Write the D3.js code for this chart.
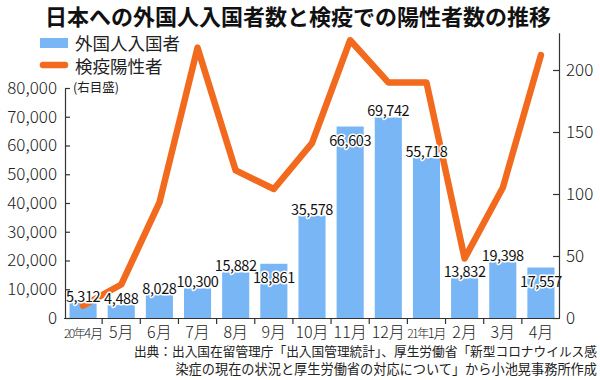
<!DOCTYPE html>
<html>
<head>
<meta charset="utf-8">
<script src="https://cdn.jsdelivr.net/npm/d3@7"></script>
<style>
  html, body { margin: 0; padding: 0; background: #fff; }
  svg { display: block; }
  text { font-family: "Noto Sans CJK JP", "Noto Sans", sans-serif; }
</style>
</head>
<body>
<svg id="chart" width="600" height="380"></svg>
<script>
// ---- data ----
const months = ["20年4月", "5月", "6月", "7月", "8月", "9月", "10月", "11月", "12月", "21年1月", "2月", "3月", "4月"];
const entrants = [5312, 4488, 8028, 10300, 15882, 18861, 35578, 66603, 69742, 55718, 13832, 19398, 17557];
const positives = [10, 27, 93, 218, 119, 104, 141, 224, 190, 190, 48, 105, 212];
const leftTicks = [0, 10000, 20000, 30000, 40000, 50000, 60000, 70000, 80000];
const rightTicks = [0, 50, 100, 150, 200];
const title = "日本への外国人入国者数と検疫での陽性者数の推移";
const seriesNames = ["外国人入国者", "検疫陽性者"];
const rightNote = "(右目盛)";
const sourceLines = [
  "出典：出入国在留管理庁「出入国管理統計」、厚生労働省「新型コロナウイルス感",
  "染症の現在の状況と厚生労働省の対応について」から小池晃事務所作成"
];
// layout: value labels that sit inside the bar top instead of above it
const labelInside = [false, false, false, false, false, true, false, true, false, false, false, false, true];

// ---- styles ----
const BAR = "#78b6f5";
const LINE = "#f26a1e";
const AXIS = "#333";

const svg = d3.select("#chart");
const plotLeft = 64, plotRight = 560, plotBottom = 318;

const x = d3.scaleBand().domain(months).range([plotLeft, plotRight])
  .paddingInner(0.29).paddingOuter(0.145);
const yL = d3.scaleLinear().domain([0, 80000]).range([plotBottom, 88]);
const yR = d3.scaleLinear().domain([0, 230]).range([plotBottom, plotBottom - 230 * 1.24]);

// title
svg.append("text").attr("x", 298).attr("y", 25).attr("text-anchor", "middle")
  .attr("font-size", 22).attr("font-weight", 700).attr("fill", "#111").text(title);

// bars
svg.append("g").selectAll("rect").data(entrants).join("rect")
  .attr("x", (d, i) => x(months[i]))
  .attr("y", d => yL(d))
  .attr("width", x.bandwidth())
  .attr("height", d => plotBottom - yL(d))
  .attr("fill", BAR);

// line
const line = d3.line().x((d, i) => x(months[i]) + x.bandwidth() / 2).y(d => yR(d));
svg.append("path").datum(positives).attr("d", line)
  .attr("fill", "none").attr("stroke", LINE).attr("stroke-width", 6.5)
  .attr("stroke-linejoin", "round").attr("stroke-linecap", "round");

// value labels
svg.append("g").selectAll("text").data(entrants).join("text")
  .attr("x", (d, i) => x(months[i]) + x.bandwidth() / 2)
  .attr("y", (d, i) => yL(d) + (labelInside[i] ? 19 : -1))
  .attr("text-anchor", "middle")
  .attr("font-size", 14.5).attr("letter-spacing", -0.4).attr("fill", "#111")
  .attr("stroke", "#fff").attr("stroke-width", 3).attr("paint-order", "stroke")
  .attr("stroke-linejoin", "round")
  .text(d => d3.format(",")(d));

// left axis
const gL = svg.append("g").attr("transform", `translate(${plotLeft + 1},0)`)
  .call(d3.axisLeft(yL).tickValues(leftTicks).tickSizeInner(-5).tickSizeOuter(0)
    .tickPadding(8).tickFormat(d3.format(",")));
gL.selectAll("text").attr("font-size", 17).attr("font-weight", 300).attr("fill", "#222")
  .style("font-family", '"Noto Sans CJK JP", sans-serif');
gL.selectAll("line, path").attr("stroke", AXIS).attr("stroke-width", 1.2);

// right axis
const gR = svg.append("g").attr("transform", `translate(${plotRight - 1},0)`)
  .call(d3.axisRight(yR).tickValues(rightTicks).tickSizeInner(-6).tickSizeOuter(0)
    .tickPadding(7));
gR.selectAll("text").attr("font-size", 17).attr("font-weight", 300).attr("fill", "#222")
  .style("font-family", '"Noto Sans CJK JP", sans-serif');
gR.selectAll("line, path").attr("stroke", AXIS).attr("stroke-width", 1.2);

// bottom axis (line + separators between bars)
const gB = svg.append("g");
gB.append("line").attr("x1", plotLeft).attr("x2", plotRight)
  .attr("y1", plotBottom + 0.5).attr("y2", plotBottom + 0.5)
  .attr("stroke", AXIS).attr("stroke-width", 1.2);
gB.selectAll("line.sep").data(months.slice(1)).join("line").attr("class", "sep")
  .attr("x1", d => x(d) - x.step() * x.paddingInner() / 2)
  .attr("x2", d => x(d) - x.step() * x.paddingInner() / 2)
  .attr("y1", plotBottom).attr("y2", plotBottom + 6)
  .attr("stroke", AXIS).attr("stroke-width", 1.2);

// month labels
const ml = gB.selectAll("text.m").data(months).join("text").attr("class", "m")
  .attr("x", d => x(d) + x.bandwidth() / 2).attr("y", 338)
  .attr("text-anchor", "middle").attr("fill", "#222").attr("font-weight", 300);
ml.each(function(d) {
  const t = d3.select(this);
  const m = d.match(/^(\d+年)(.*)$/);
  if (m) {
    t.append("tspan").attr("font-size", 12).attr("letter-spacing", -1.5).text(m[1]);
    t.append("tspan").attr("font-size", 13).attr("letter-spacing", -1).text(m[2]);
  } else {
    t.append("tspan").attr("font-size", 16).text(d);
  }
});

// legend
const lg = svg.append("g");
lg.append("rect").attr("x", 40).attr("y", 38).attr("width", 28).attr("height", 10).attr("fill", BAR);
lg.append("line").attr("x1", 43).attr("x2", 65).attr("y1", 65).attr("y2", 65)
  .attr("stroke", LINE).attr("stroke-width", 6.5).attr("stroke-linecap", "round");
lg.append("text").attr("x", 75).attr("y", 50).attr("font-size", 17.5).attr("fill", "#222").text(seriesNames[0]);
lg.append("text").attr("x", 75).attr("y", 73).attr("font-size", 17.5).attr("fill", "#222").text(seriesNames[1]);
lg.append("text").attr("x", 73).attr("y", 92).attr("font-size", 12.5).attr("fill", "#222").text(rightNote);

// source
svg.append("g").selectAll("text").data(sourceLines).join("text")
  .attr("x", 597).attr("y", (d, i) => 356 + i * 18)
  .attr("text-anchor", "end").attr("font-size", (d, i) => i === 0 ? 12.7 : 13.2).attr("fill", "#222")
  .text(d => d);
</script>
</body>
</html>
